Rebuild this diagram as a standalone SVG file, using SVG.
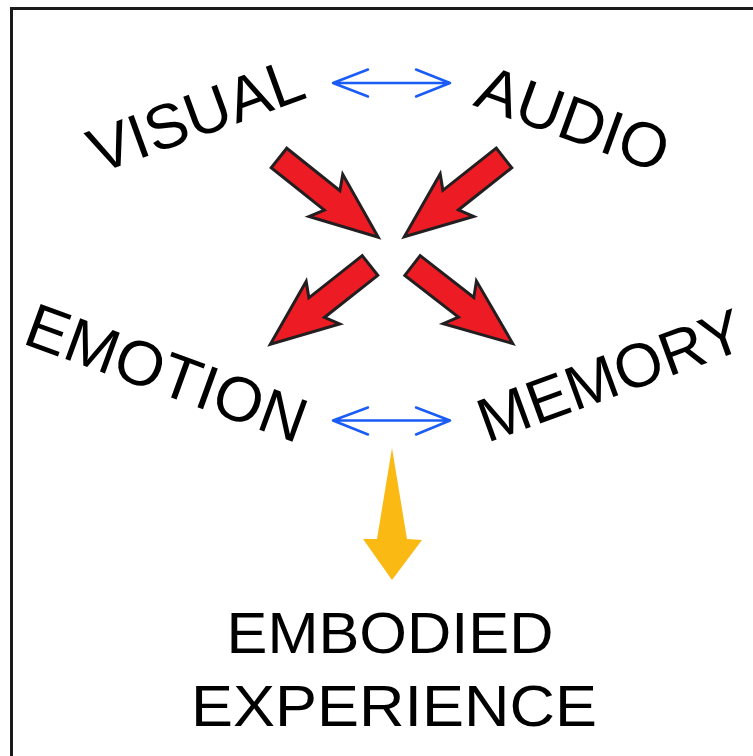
<svg xmlns="http://www.w3.org/2000/svg" width="753" height="756" viewBox="0 0 753 756">
<defs>
<style>
.lbl{font-family:"Liberation Sans",Arial,sans-serif;fill:#000;}
.red{fill:#ed1c24;stroke:#231f20;stroke-width:3;stroke-linejoin:miter;}
.blue{fill:none;stroke:#1a5cf5;stroke-width:2.5;stroke-linecap:round;stroke-linejoin:round;}
</style>
<polygon id="redArrow" class="red" points="0,-12.5 68,-12.5 60,-27 127,0 60,27 68,12.5 0,12.5"/>
</defs>
<rect x="0" y="0" width="753" height="756" fill="#fff"/>
<path d="M11.5,756 V8.5 H753" fill="none" stroke="#1a1a1a" stroke-width="3"/>
<g id="visual"><text class="lbl" font-size="63" transform="translate(98,174) rotate(-20)">VISUAL</text></g>
<g id="audio"><text class="lbl" font-size="63" transform="translate(472,105) rotate(20)">AUDIO</text></g>
<g id="emotion"><text class="lbl" font-size="63" transform="translate(21,343) rotate(20)">EMOTION</text></g>
<g id="memory"><text class="lbl" font-size="62" transform="translate(487,443) rotate(-20)">MEMORY</text></g>
<g id="embodied"><text class="lbl" font-size="57" text-anchor="middle" x="390" y="653" textLength="327" lengthAdjust="spacingAndGlyphs">EMBODIED</text>
<text class="lbl" font-size="57" text-anchor="middle" x="394" y="726" textLength="406" lengthAdjust="spacingAndGlyphs">EXPERIENCE</text></g>
<g id="connectors">
<use href="#redArrow" transform="translate(279,158) rotate(38.6)"/>
<use href="#redArrow" transform="translate(504,158) rotate(141.7)"/>
<use href="#redArrow" transform="translate(370,265.5) rotate(141.7)"/>
<use href="#redArrow" transform="translate(412.5,265.5) rotate(37.9)"/>
<path class="blue" d="M333,83 H450 M368,69.5 L333,83 L368,96.5 M416,69.5 L450,83 L416,96.5"/>
<path class="blue" d="M333,420.5 H450 M368,407.5 L333,420.5 L368,434.5 M416,407.5 L450,420.5 L416,434.5"/>
<polygon fill="#fbb913" points="392,448 407,539 422,540 392,580 363,539 377,539"/>
</g>
</svg>
